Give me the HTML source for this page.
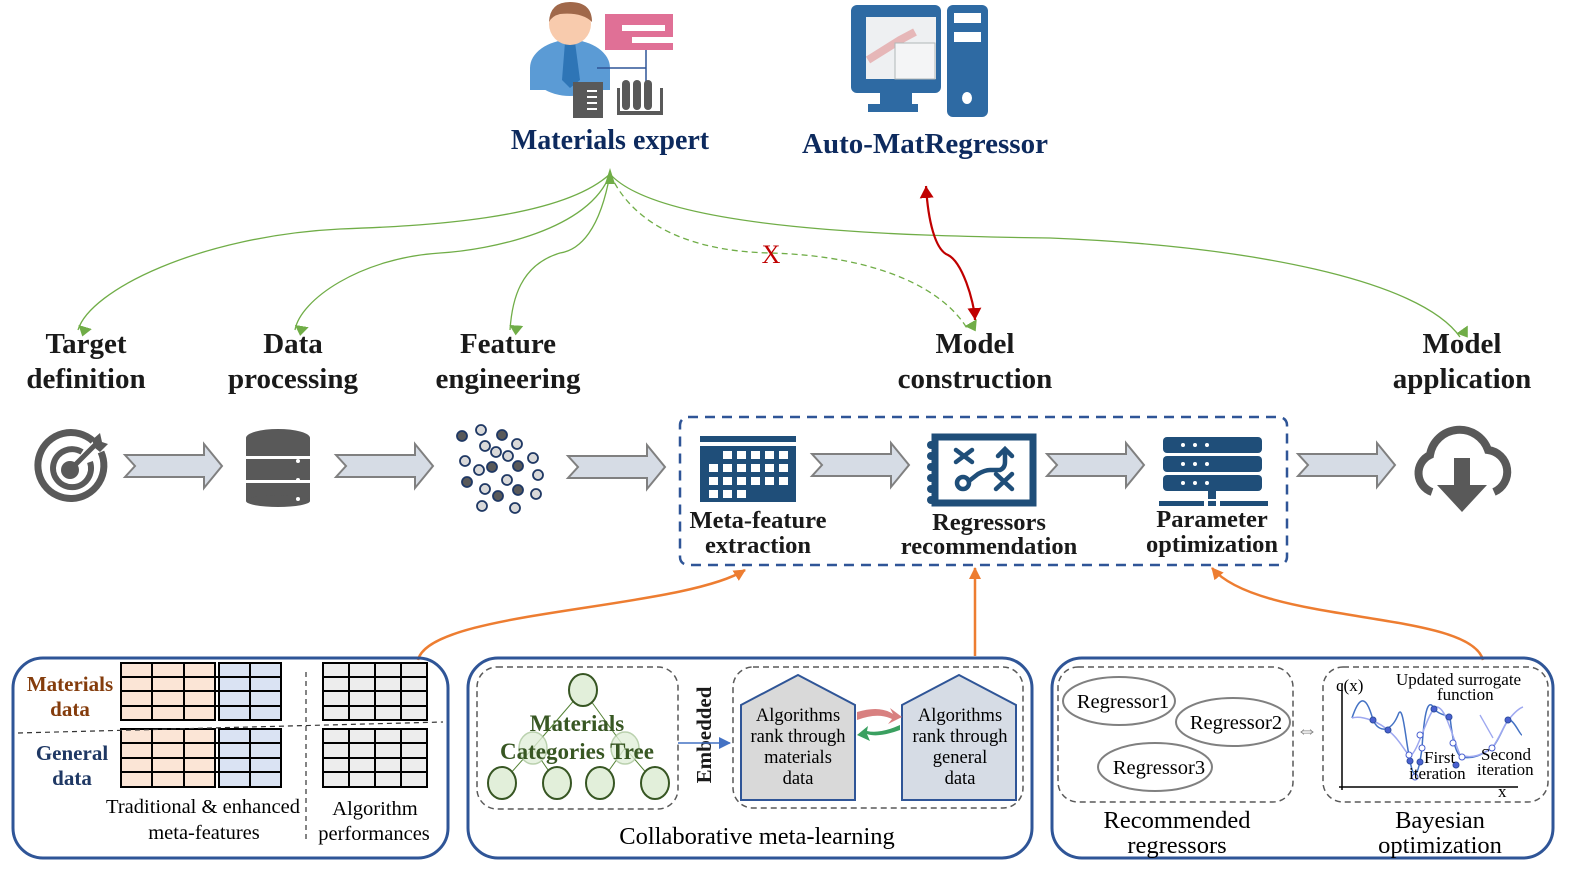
<!DOCTYPE html>
<html><head><meta charset="utf-8"><style>
html,body{margin:0;padding:0;background:#fff}
svg{display:block}
text{font-family:"Liberation Serif",serif}
.b{font-weight:bold}
</style></head><body>
<svg width="1580" height="882" viewBox="0 0 1580 882" xmlns="http://www.w3.org/2000/svg">
<defs>
<marker id="gb" markerWidth="10" markerHeight="14" refX="5" refY="13" orient="auto" markerUnits="userSpaceOnUse" viewBox="0 0 10 14"><path d="M0,0 L10,7 L0,14 Z" fill="#70ad47"/></marker>
<marker id="rb" markerWidth="12" markerHeight="14" refX="12" refY="7" orient="auto-start-reverse" markerUnits="userSpaceOnUse" viewBox="0 0 12 14"><path d="M0,0 L12,7 L0,14 Z" fill="#c00000"/></marker>
<marker id="ob" markerWidth="12" markerHeight="12" refX="11" refY="6" orient="auto" markerUnits="userSpaceOnUse" viewBox="0 0 12 12"><path d="M0,0 L12,6 L0,12 Z" fill="#ed7d31"/></marker>
<marker id="bb" markerWidth="12" markerHeight="12" refX="11" refY="6" orient="auto" markerUnits="userSpaceOnUse" viewBox="0 0 12 12"><path d="M0,0 L12,6 L0,12 Z" fill="#4472c4"/></marker>
<path id="arr" d="M0,-11 L79,-11 L79,-22 L97,0 L79,22 L79,11 L0,11 L10,0 Z" fill="#d6dce5" stroke="#808080" stroke-width="2"/>
</defs>

<!-- Materials expert icon -->
<ellipse cx="570" cy="68" rx="40" ry="28" fill="#5b9bd5"/>
<rect x="530" y="68" width="80" height="22" fill="#5b9bd5"/>
<path d="M565,42 L575,42 L580,80 L570,88 L562,80 Z" fill="#2e75b6"/>
<circle cx="570" cy="24" r="21" fill="#f8cbad"/>
<path d="M549,22 Q550,2 570,2 Q592,2 592,22 Q582,12 560,14 Q552,16 549,22 Z" fill="#a0684a"/>
<rect x="605" y="14" width="68" height="36" fill="#e07096"/>
<rect x="622" y="25" width="43" height="6" fill="#fff"/>
<rect x="632" y="37" width="43" height="6" fill="#fff"/>
<path d="M597,68 L646,68 M646,50 L646,84" stroke="#2f5597" stroke-width="1.5"/>
<rect x="573" y="82" width="30" height="36" fill="#595959"/>
<rect x="587" y="90" width="10" height="2" fill="#fff"/><rect x="587" y="96" width="10" height="2" fill="#fff"/><rect x="587" y="102" width="10" height="2" fill="#fff"/><rect x="587" y="108" width="10" height="2" fill="#fff"/>
<g fill="#595959"><rect x="622" y="80" width="8" height="30" rx="4"/><rect x="633" y="80" width="8" height="30" rx="4"/><rect x="644" y="80" width="8" height="30" rx="4"/><rect x="617" y="111" width="46" height="4"/><rect x="617" y="88" width="3" height="25"/><rect x="660" y="88" width="3" height="25"/></g>
<text x="610" y="149" font-size="28" class="b" fill="#0d2a5e" text-anchor="middle">Materials expert</text>

<!-- computer icon -->
<rect x="851" y="5" width="90" height="88" rx="6" fill="#2e6aa3"/>
<rect x="866" y="17" width="70" height="62" fill="#eef0f2"/>
<path d="M868,60 L900,40 L915,32" stroke="#e08080" stroke-width="8" opacity="0.5"/>
<rect x="895" y="43" width="40" height="36" fill="#f4f5f6" stroke="#b0b8b8"/>
<rect x="880" y="92" width="32" height="12" fill="#2e6aa3"/>
<rect x="868" y="104" width="50" height="8" fill="#2e6aa3"/>
<rect x="947" y="5" width="41" height="112" rx="6" fill="#2e6aa3"/>
<rect x="954" y="13" width="27" height="10" fill="#fff"/><rect x="954" y="32" width="27" height="10" fill="#fff"/>
<ellipse cx="967" cy="98" rx="5" ry="6" fill="#fff"/>
<text x="925" y="153" font-size="29" class="b" fill="#0d2a5e" text-anchor="middle">Auto-MatRegressor</text>

<!-- green curves -->
<g fill="none" stroke="#70ad47" stroke-width="1.3">
<path d="M610,174 C560,220 420,226 340,229 C200,236 90,290 78,330" marker-end="url(#gb)"/>
<path d="M610,174 C590,230 490,250 440,253 C360,258 300,300 295,330" marker-end="url(#gb)"/>
<path d="M610,174 C600,230 580,250 560,253 C520,265 512,300 510,330" marker-end="url(#gb)"/>
<path d="M610,174 C640,240 720,252 770,253 C880,256 945,290 968,330" stroke-dasharray="6,4" marker-end="url(#gb)"/>
<path d="M610,174 C660,230 900,236 1050,238 C1250,246 1420,280 1460,337" marker-end="url(#gb)"/>
</g>
<path d="M610,168 L605,184 L615,184 Z" fill="#70ad47"/>
<text x="771" y="263" font-size="26" fill="#c00000" text-anchor="middle">X</text>
<path d="M926,186 C928,220 935,250 948,255 C962,262 974,300 975,320" fill="none" stroke="#c00000" stroke-width="2.2" marker-end="url(#rb)" marker-start="url(#rb)"/>

<!-- stage labels -->
<g font-size="29" class="b" fill="#1a1a1a" text-anchor="middle">
<text x="86" y="353">Target</text><text x="86" y="388">definition</text>
<text x="293" y="353">Data</text><text x="293" y="388">processing</text>
<text x="508" y="353">Feature</text><text x="508" y="388">engineering</text>
<text x="975" y="353">Model</text><text x="975" y="388">construction</text>
<text x="1462" y="353">Model</text><text x="1462" y="388">application</text>
</g>

<!-- target -->
<g fill="none" stroke="#595959">
<path d="M93,441 A33,33 0 1 0 101,452" stroke-width="7"/>
<path d="M82,452 A19,19 0 1 0 90,462" stroke-width="6"/>
</g>
<circle cx="70" cy="470" r="9" fill="#595959"/>
<path d="M70,470 L95,445" stroke="#595959" stroke-width="5"/>
<path d="M92,440 L100,433 L102,442 L108,444 L100,452 L95,448 Z" fill="#595959"/>

<!-- database -->
<g fill="#595959">
<ellipse cx="278" cy="438" rx="32" ry="9"/>
<rect x="246" y="438" width="64" height="18"/>
<rect x="246" y="459" width="64" height="21" />
<rect x="246" y="483" width="64" height="18"/>
<ellipse cx="278" cy="501" rx="32" ry="6"/>
</g>
<g fill="#fff"><circle cx="298" cy="461" r="2"/><circle cx="298" cy="480" r="2"/><circle cx="298" cy="499" r="2"/></g>

<!-- dots -->
<g stroke="#1f3864" stroke-width="1.8">
<circle cx="462" cy="436" r="5" fill="#595959"/><circle cx="481" cy="430" r="5" fill="#d9d9d9"/><circle cx="502" cy="435" r="5" fill="#595959"/><circle cx="485" cy="446" r="5" fill="#d9d9d9"/><circle cx="517" cy="444" r="5" fill="#d9d9d9"/>
<circle cx="496" cy="452" r="5" fill="#d9d9d9"/><circle cx="508" cy="456" r="5" fill="#d9d9d9"/><circle cx="465" cy="461" r="5" fill="#d9d9d9"/><circle cx="533" cy="458" r="5" fill="#d9d9d9"/>
<circle cx="479" cy="470" r="5" fill="#d9d9d9"/><circle cx="492" cy="467" r="5" fill="#595959"/><circle cx="518" cy="466" r="5" fill="#595959"/><circle cx="538" cy="475" r="5" fill="#d9d9d9"/>
<circle cx="467" cy="482" r="5" fill="#595959"/><circle cx="507" cy="480" r="5" fill="#d9d9d9"/><circle cx="485" cy="489" r="5" fill="#d9d9d9"/><circle cx="518" cy="490" r="5" fill="#595959"/><circle cx="498" cy="496" r="5" fill="#595959"/>
<circle cx="536" cy="494" r="5" fill="#d9d9d9"/><circle cx="482" cy="506" r="5" fill="#d9d9d9"/><circle cx="515" cy="508" r="5" fill="#d9d9d9"/>
</g>

<!-- arrows -->
<use href="#arr" x="125" y="466"/>
<use href="#arr" x="336" y="466"/>
<use href="#arr" x="568" y="467"/>
<use href="#arr" x="812" y="465"/>
<use href="#arr" x="1047" y="465"/>
<use href="#arr" x="1298" y="465"/>

<!-- dashed box -->
<rect x="680" y="417" width="607" height="148" rx="8" fill="none" stroke="#2f5597" stroke-width="2.5" stroke-dasharray="10,7"/>

<!-- meta-feature icon -->
<rect x="700" y="436" width="96" height="6" fill="#1f4e79"/>
<rect x="700" y="446" width="96" height="56" fill="#1f4e79"/>
<g fill="#fff">
<rect x="723" y="451" width="9" height="8"/><rect x="737" y="451" width="9" height="8"/><rect x="751" y="451" width="9" height="8"/><rect x="765" y="451" width="9" height="8"/><rect x="779" y="451" width="9" height="8"/>
<rect x="709" y="464" width="9" height="8"/><rect x="723" y="464" width="9" height="8"/><rect x="737" y="464" width="9" height="8"/><rect x="751" y="464" width="9" height="8"/><rect x="765" y="464" width="9" height="8"/><rect x="779" y="464" width="9" height="8"/>
<rect x="709" y="477" width="9" height="8"/><rect x="723" y="477" width="9" height="8"/><rect x="737" y="477" width="9" height="8"/><rect x="751" y="477" width="9" height="8"/><rect x="765" y="477" width="9" height="8"/><rect x="779" y="477" width="9" height="8"/>
<rect x="709" y="490" width="9" height="8"/><rect x="723" y="490" width="9" height="8"/><rect x="737" y="490" width="9" height="8"/>
</g>
<g font-size="24.5" class="b" fill="#1a1a1a" text-anchor="middle">
<text x="758" y="528">Meta-feature</text><text x="758" y="553">extraction</text>
<text x="989" y="530">Regressors</text><text x="989" y="554">recommendation</text>
<text x="1212" y="527">Parameter</text><text x="1212" y="552">optimization</text>
</g>

<!-- regressor icon -->
<rect x="935" y="437" width="98" height="66" fill="#fff" stroke="#1f4e79" stroke-width="7"/>
<g fill="#1f4e79"><circle cx="931" cy="445" r="4"/><circle cx="931" cy="456" r="4"/><circle cx="931" cy="467" r="4"/><circle cx="931" cy="478" r="4"/><circle cx="931" cy="489" r="4"/><circle cx="931" cy="500" r="4"/></g>
<g stroke="#1f4e79" stroke-width="4.5" fill="none" stroke-linecap="round">
<path d="M956,450 L972,462 M972,450 L956,462"/>
<path d="M996,474 L1012,489 M1012,474 L996,489"/>
<circle cx="963" cy="483" r="6"/>
<path d="M969,481 L978,474 Q985,470 990,470 L1000,470 Q1005,468 1005,462 L1005,450 M998,456 L1005,449 L1012,456"/>
</g>

<!-- server icon -->
<g fill="#1f4e79">
<rect x="1163" y="437" width="99" height="16" rx="4"/>
<rect x="1163" y="456" width="99" height="16" rx="4"/>
<rect x="1163" y="475" width="99" height="16" rx="4"/>
<rect x="1208" y="491" width="8" height="8"/>
<rect x="1159" y="501" width="45" height="5"/><rect x="1208" y="501" width="8" height="5"/><rect x="1220" y="501" width="48" height="5"/>
</g>
<g fill="#fff"><circle cx="1183" cy="445" r="2"/><circle cx="1195" cy="445" r="2"/><circle cx="1207" cy="445" r="2"/><circle cx="1183" cy="464" r="2"/><circle cx="1195" cy="464" r="2"/><circle cx="1207" cy="464" r="2"/><circle cx="1183" cy="483" r="2"/><circle cx="1195" cy="483" r="2"/><circle cx="1207" cy="483" r="2"/></g>

<!-- cloud -->
<path d="M1432,492 A20,20 0 0 1 1430,455 A30,30 0 0 1 1488,450 A22,22 0 0 1 1494,492" fill="none" stroke="#595959" stroke-width="8"/>
<rect x="1454" y="458" width="16" height="30" fill="#595959"/>
<path d="M1437,485 L1487,485 L1462,512 Z" fill="#595959"/>

<!-- orange connectors -->
<g fill="none" stroke="#ed7d31" stroke-width="2.5">
<path d="M418,660 C430,610 680,610 745,570" marker-end="url(#ob)"/>
<path d="M975,656 L975,568" marker-end="url(#ob)"/>
<path d="M1483,660 C1470,610 1260,625 1212,568" marker-end="url(#ob)"/>
</g>

<!-- bottom boxes -->
<g fill="none" stroke="#2f5597" stroke-width="3">
<rect x="13" y="658" width="435" height="200" rx="30"/>
<rect x="468" y="658" width="564" height="200" rx="30"/>
<rect x="1052" y="658" width="501" height="200" rx="30"/>
</g>

<!-- box1 tables -->
<g stroke="#000" stroke-width="2">
<rect x="121" y="663" width="94" height="57" fill="#fbe5d6"/>
<rect x="219" y="663" width="62" height="57" fill="#dae3f3"/>
<rect x="323" y="663" width="104" height="57" fill="#ededed"/>
<rect x="121" y="729" width="94" height="58" fill="#fbe5d6"/>
<rect x="219" y="729" width="62" height="58" fill="#dae3f3"/>
<rect x="323" y="729" width="104" height="58" fill="#ededed"/>
<path d="M152,663V720M184,663V720M250,663V720M349,663V720M375,663V720M401,663V720M121,677H281M121,691H281M121,706H281M323,677H427M323,691H427M323,706H427"/>
<path d="M152,729V787M184,729V787M250,729V787M349,729V787M375,729V787M401,729V787M121,743H281M121,758H281M121,772H281M323,743H427M323,758H427M323,772H427"/>
</g>
<path d="M18,733 L443,722" stroke="#333" stroke-width="1.2" stroke-dasharray="5,4"/>
<path d="M306,672 L306,843" stroke="#333" stroke-width="1.2" stroke-dasharray="5,4"/>
<g font-size="21" class="b" text-anchor="middle">
<text x="70" y="691" fill="#843c0c">Materials</text><text x="70" y="716" fill="#843c0c">data</text>
<text x="72" y="760" fill="#1f3864">General</text><text x="72" y="785" fill="#1f3864">data</text>
</g>
<g font-size="20.5" text-anchor="middle" fill="#000">
<text x="203" y="813">Traditional &amp; enhanced</text><text x="204" y="839">meta-features</text>
<text x="375" y="815">Algorithm</text><text x="374" y="840">performances</text>
</g>

<!-- box2 -->
<rect x="477" y="667" width="201" height="142" rx="20" fill="none" stroke="#595959" stroke-width="1.5" stroke-dasharray="6,4"/>
<g stroke="#548235" stroke-width="1"><path d="M583,690 L533,748 M583,690 L625,748 M533,748 L502,783 M533,748 L557,783 M625,748 L600,783 M625,748 L655,783"/></g>
<g fill="#e2efda" stroke="#375623" stroke-width="2">
<ellipse cx="583" cy="690" rx="14" ry="16"/>
<ellipse cx="502" cy="783" rx="14" ry="16"/><ellipse cx="557" cy="783" rx="14" ry="16"/><ellipse cx="600" cy="783" rx="14" ry="16"/><ellipse cx="655" cy="783" rx="14" ry="16"/>
</g>
<g fill="#e2efda" stroke="#a9c69b" stroke-width="1.5" opacity="0.8"><ellipse cx="533" cy="748" rx="14" ry="16"/><ellipse cx="625" cy="748" rx="14" ry="16"/></g>
<g font-size="23" class="b" fill="#385723" text-anchor="middle"><text x="577" y="731">Materials</text><text x="577" y="759">Categories Tree</text></g>
<text transform="translate(711,735) rotate(-90)" font-size="21" class="b" text-anchor="middle" fill="#1a1a1a">Embedded</text>
<path d="M678,743 L730,743" stroke="#4472c4" stroke-width="1.5" marker-end="url(#bb)"/>
<rect x="733" y="667" width="290" height="141" rx="20" fill="none" stroke="#595959" stroke-width="1.5" stroke-dasharray="6,4"/>
<path d="M741,705 L798,675 L855,705 L855,800 L741,800 Z" fill="#d9d9d9" stroke="#2f5597" stroke-width="2"/>
<path d="M902,705 L959,675 L1016,705 L1016,800 L902,800 Z" fill="#d6dce5" stroke="#2f5597" stroke-width="2"/>
<g font-size="18.5" text-anchor="middle" fill="#000">
<text x="798" y="721">Algorithms</text><text x="798" y="742">rank through</text><text x="798" y="763">materials</text><text x="798" y="784">data</text>
<text x="960" y="721">Algorithms</text><text x="960" y="742">rank through</text><text x="960" y="763">general</text><text x="960" y="784">data</text>
</g>
<path d="M857,712 Q880,705 893,714 L890,708 L902,717 L888,724 L892,719 Q878,712 857,720 Z" fill="#d88080"/>
<path d="M900,730 Q878,738 867,734 L870,741 L857,735 L868,726 L867,731 Q880,734 900,725 Z" fill="#3aa060"/>
<text x="757" y="844" font-size="24.5" text-anchor="middle" fill="#000">Collaborative meta-learning</text>

<!-- box3 -->
<rect x="1058" y="667" width="235" height="135" rx="20" fill="none" stroke="#595959" stroke-width="1.5" stroke-dasharray="6,4"/>
<g fill="#fff" stroke="#808080" stroke-width="2">
<ellipse cx="1119" cy="701" rx="56" ry="24"/><ellipse cx="1233" cy="722" rx="57" ry="24"/><ellipse cx="1155" cy="767" rx="57" ry="24"/>
</g>
<g font-size="20.5" text-anchor="middle" fill="#000">
<text x="1123" y="708">Regressor1</text><text x="1236" y="729">Regressor2</text><text x="1159" y="774">Regressor3</text>
</g>
<text x="1307" y="737" font-size="22" text-anchor="middle" fill="#808080">⇔</text>
<rect x="1323" y="667" width="225" height="135" rx="20" fill="none" stroke="#595959" stroke-width="1.5" stroke-dasharray="6,4"/>
<path d="M1342,790 L1342,684 M1339,787 L1518,787" stroke="#000" stroke-width="1.5"/>
<path d="M1352,718 C1358,700 1365,690 1373,720 C1380,735 1392,730 1398,715 C1403,700 1406,745 1410,760 C1413,780 1418,780 1422,748 C1425,700 1430,700 1435,710 C1440,715 1446,715 1450,717 C1452,735 1455,755 1462,757 C1475,760 1485,752 1492,748 C1500,740 1505,720 1510,720 C1515,722 1520,735 1522,735" fill="none" stroke="#4472c4" stroke-width="1.5"/>
<path d="M1352,718 C1362,715 1380,722 1390,732 C1400,740 1405,752 1410,756 C1418,752 1425,720 1435,707 C1445,705 1450,730 1460,755 C1475,760 1485,752 1492,748 C1500,738 1505,722 1510,718 C1515,712 1520,708 1523,707" fill="none" stroke="#9ea8f0" stroke-width="1.5"/>
<path d="M1480,715 L1493,738" stroke="#9ea8f0" stroke-width="1.3"/>
<g fill="#4a60d0" stroke="#2f4fa0"><circle cx="1373" cy="720" r="3"/><circle cx="1388" cy="730" r="3"/><circle cx="1410" cy="761" r="3"/><circle cx="1420" cy="762" r="3"/><circle cx="1434" cy="709" r="3"/><circle cx="1449" cy="717" r="3"/><circle cx="1456" cy="765" r="3"/><circle cx="1508" cy="720" r="3"/></g>
<g fill="#fff" stroke="#4a60d0"><circle cx="1409" cy="755" r="3"/><circle cx="1415" cy="777" r="3"/><circle cx="1422" cy="748" r="3"/><circle cx="1453" cy="743" r="3"/><circle cx="1462" cy="757" r="3"/><circle cx="1492" cy="748" r="3"/><circle cx="1420" cy="735" r="3"/></g>
<g font-size="17" fill="#000">
<text x="1336" y="691">c(x)</text>
<text x="1396" y="685">Updated surrogate</text>
<text x="1437" y="700">function</text>
<text x="1424" y="763">First</text><text x="1409" y="779">iteration</text>
<text x="1481" y="760">Second</text><text x="1477" y="775">iteration</text>
<text x="1498" y="797">x</text>
</g>
<g font-size="24.5" text-anchor="middle" fill="#000">
<text x="1177" y="828">Recommended</text><text x="1177" y="853">regressors</text>
<text x="1440" y="828">Bayesian</text><text x="1440" y="853">optimization</text>
</g>
</svg>
</body></html>
